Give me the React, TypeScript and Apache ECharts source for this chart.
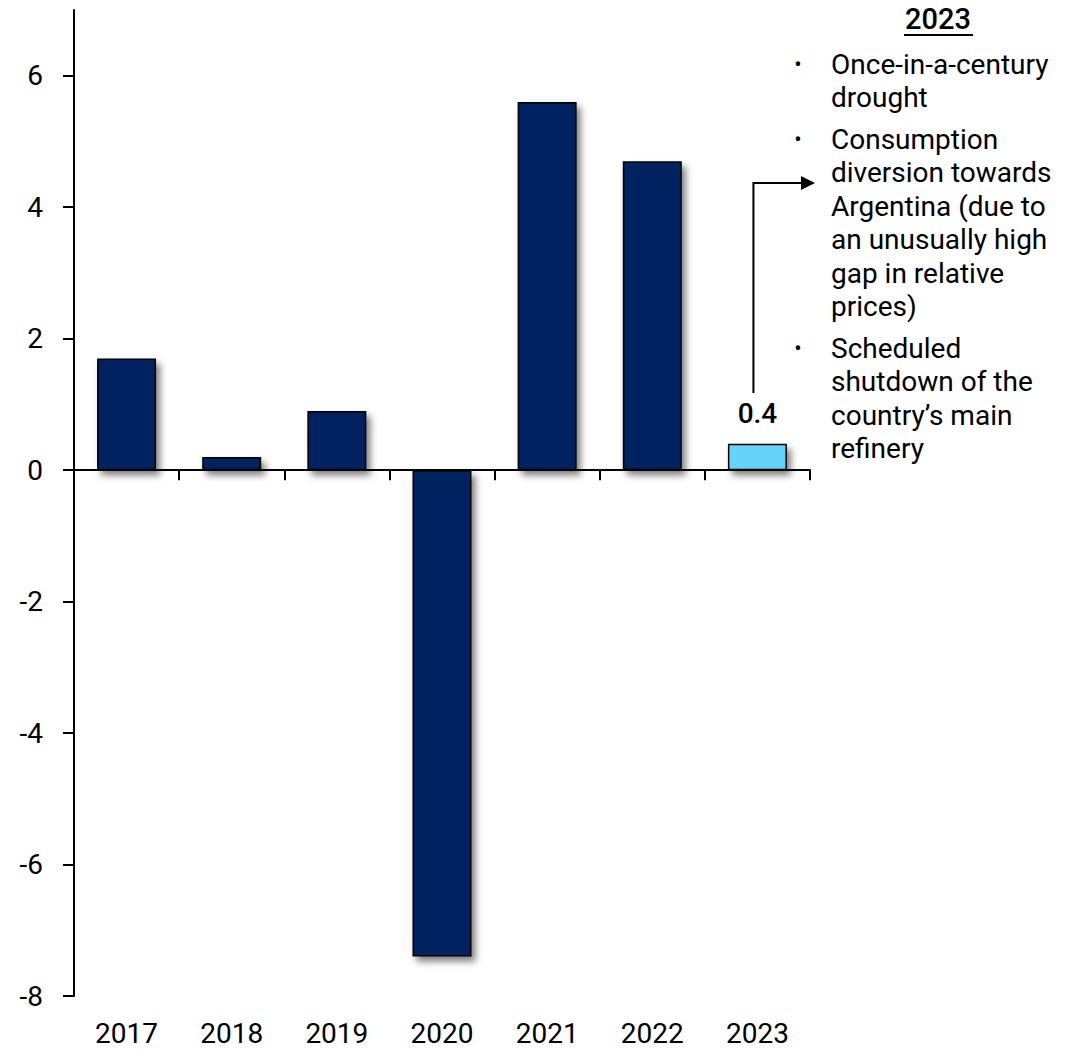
import React, { useEffect, useRef } from "react";
import * as echarts from "echarts";

const years = ["2017", "2018", "2019", "2020", "2021", "2022", "2023"];
const growth = [1.7, 0.2, 0.9, -7.4, 5.6, 4.7, 0.4];
const yTickValues = [-8, -6, -4, -2, 0, 2, 4, 6];
const noteTitle = "2023";
const noteBullets = [
  ["Once-in-a-century", "drought"],
  ["Consumption", "diversion towards", "Argentina (due to", "an unusually high", "gap in relative", "prices)"],
  ["Scheduled", "shutdown of the", "country’s main", "refinery"],
];

const NAVY = "#002060";
const LIGHT = "#66D4FA";
const FONT = "Roboto, 'Noto Sans', sans-serif";

export default function App() {
  const ref = useRef<HTMLDivElement>(null);
  useEffect(() => {
    document.body.style.margin = "0";
    if (!ref.current) return;
    const chart = echarts.init(ref.current, null, { renderer: "svg" });
    const last = growth.length - 1;
    chart.setOption({
      animation: false,
      textStyle: { fontFamily: FONT },
      grid: { left: 74, top: 10, width: 736, height: 986, containLabel: false },
      xAxis: [
        {
          type: "category",
          data: years,
          axisLine: { show: true, onZero: true, lineStyle: { color: "#000", width: 2 } },
          axisTick: { show: true, length: 10, lineStyle: { color: "#000", width: 2 } },
          axisLabel: { show: false },
          splitLine: { show: false },
        },
        {
          type: "category",
          data: years,
          position: "bottom",
          axisLine: { show: false, onZero: false },
          axisTick: { show: false },
          axisLabel: { show: true, fontSize: 28, color: "#000", margin: 23, fontFamily: FONT },
          splitLine: { show: false },
        },
      ],
      yAxis: {
        type: "value",
        min: -8,
        max: 7,
        interval: 2,
        axisLine: { show: true, lineStyle: { color: "#000", width: 2 } },
        axisTick: { show: true, length: 11, customValues: yTickValues, lineStyle: { color: "#000", width: 2 } },
        axisLabel: { show: true, customValues: yTickValues, fontSize: 28, color: "#000", margin: 31, fontFamily: FONT },
        splitLine: { show: false },
      },
      series: [
        {
          type: "bar",
          xAxisIndex: 0,
          yAxisIndex: 0,
          barWidth: 59,
          data: growth.map((v, i) =>
            i === last
              ? {
                  value: v,
                  itemStyle: { color: LIGHT },
                  label: {
                    show: true,
                    position: "top",
                    distance: 16,
                    fontSize: 28,
                    fontWeight: 500,
                    color: "#000",
                    fontFamily: FONT,
                    formatter: (p: any) => String(p.value),
                  },
                }
              : { value: v }
          ),
          itemStyle: {
            color: NAVY,
            borderColor: "#000",
            borderWidth: 1.5,
            shadowBlur: 7,
            shadowColor: "rgba(0,0,0,0.5)",
            shadowOffsetX: 4,
            shadowOffsetY: 5,
          },
        },
      ],
    });

    const p = chart.convertToPixel({ xAxisIndex: 0, yAxisIndex: 0 }, [years[last], growth[last]]) as number[];
    const ax = p[0] - 4;
    const topY = 183;
    const tipX = 815;
    const LH = 33.5;
    const graphics: any[] = [
      {
        type: "polyline",
        shape: { points: [[ax, 393], [ax, topY], [tipX - 12, topY]] },
        style: { stroke: "#000", lineWidth: 2, fill: null },
      },
      {
        type: "polygon",
        shape: { points: [[tipX - 14, topY - 7], [tipX, topY], [tipX - 14, topY + 7]] },
        style: { fill: "#000" },
      },
      {
        type: "text",
        x: 938,
        y: 19,
        style: { text: noteTitle, font: `500 29px ${FONT}`, fill: "#000", align: "center", verticalAlign: "middle" },
      },
      {
        type: "line",
        shape: { x1: 904, y1: 35, x2: 973, y2: 35 },
        style: { stroke: "#000", lineWidth: 2 },
      },
    ];
    let y = 64;
    noteBullets.forEach((lines, bi) => {
      if (bi > 0) y += 8;
      graphics.push({
        type: "text",
        x: 798,
        y: y,
        style: { text: "•", font: `22px ${FONT}`, fill: "#000", align: "center", verticalAlign: "middle" },
      });
      graphics.push({
        type: "text",
        x: 831,
        y: y - LH / 2,
        style: {
          text: lines.join("\n"),
          font: `28px ${FONT}`,
          lineHeight: LH,
          fill: "#000",
          align: "left",
          verticalAlign: "top",
        },
      });
      y += LH * lines.length;
    });
    chart.setOption({ graphic: graphics });

    return () => chart.dispose();
  }, []);
  return <div ref={ref} style={{ width: 1073, height: 1050 }} />;
}
